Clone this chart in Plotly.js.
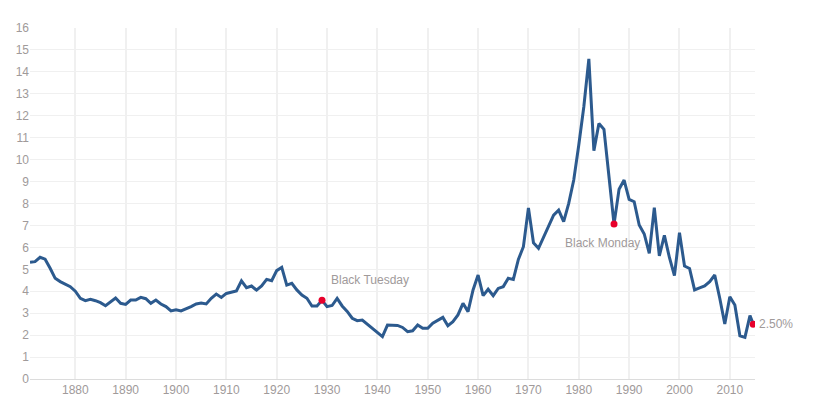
<!DOCTYPE html>
<html>
<head>
<meta charset="utf-8">
<script src="https://cdn.plot.ly/plotly-3.0.1.min.js"></script>
<style>html,body{margin:0;padding:0;background:#fff;}#chart{width:822px;height:411px;}</style>
</head>
<body>
<div id="chart"></div>
<script>
// Long-term interest rate (%), annual 1871-2014, plus latest reading
const years = [];
for (let y = 1871; y <= 2014; y++) years.push(y);
const latestYear = 2014.65;
const latestRate = 2.50;

const rates = [
  5.32, 5.35, 5.55, 5.46, 5.05, 4.59, 4.44, 4.32, 4.21,           // 1871-1879
  4.00, 3.68, 3.57, 3.63, 3.57, 3.48, 3.34, 3.52, 3.69, 3.45,     // 1880-1889
  3.40, 3.60, 3.60, 3.72, 3.66, 3.45, 3.60, 3.42, 3.30, 3.10,     // 1890-1899
  3.15, 3.10, 3.19, 3.30, 3.42, 3.46, 3.42, 3.68, 3.87, 3.72,     // 1900-1909
  3.90, 3.95, 4.01, 4.47, 4.16, 4.24, 4.05, 4.24, 4.54, 4.48,     // 1910-1919
  4.94, 5.09, 4.28, 4.36, 4.06, 3.83, 3.68, 3.33, 3.33, 3.59,     // 1920-1929
  3.30, 3.35, 3.67, 3.33, 3.08, 2.77, 2.66, 2.69, 2.51, 2.32,     // 1930-1939
  2.11, 1.93, 2.46, 2.46, 2.44, 2.35, 2.16, 2.20, 2.46, 2.31,     // 1940-1949
  2.31, 2.54, 2.69, 2.81, 2.43, 2.61, 2.92, 3.45, 3.07, 4.06,     // 1950-1959
  4.74, 3.80, 4.09, 3.80, 4.13, 4.21, 4.59, 4.54, 5.45, 6.03,     // 1960-1969
  7.80, 6.21, 5.96, 6.49, 7.02, 7.47, 7.70, 7.17, 8.01, 9.07,     // 1970-1979
  10.67, 12.41, 14.59, 10.41, 11.65, 11.38, 9.22, 7.06, 8.65, 9.07, // 1980-1989
  8.19, 8.08, 7.02, 6.61, 5.73, 7.81, 5.61, 6.55, 5.54, 4.71,     // 1990-1999
  6.67, 5.15, 5.04, 4.06, 4.15, 4.24, 4.44, 4.74, 3.68, 2.51,     // 2000-2009
  3.75, 3.37, 1.97, 1.90, 2.89                                     // 2010-2014
];

const eventNames = ["Black Tuesday", "Black Monday"];
const eventYears = [1929, 1987];

const xs = years.concat([latestYear]);
const ys = rates.concat([latestRate]);
const eventRates = eventYears.map(y => rates[years.indexOf(y)]);

const xTickVals = [1880, 1890, 1900, 1910, 1920, 1930, 1940, 1950, 1960, 1970, 1980, 1990, 2000, 2010];
const yTickVals = [0,1,2,3,4,5,6,7,8,9,10,11,12,13,14,15,16];

const lineColor = "#2c5a8e";
const dotColor = "#e8002b";
const textColor = "#a09a9a";
const font = "Liberation Sans, Arial, Helvetica, sans-serif";

const traces = [
  {x: xs, y: ys, type: "scatter", mode: "lines",
   line: {color: lineColor, width: 3}, hoverinfo: "skip"},
  {x: eventYears.concat([latestYear]), y: eventRates.concat([latestRate]),
   type: "scatter", mode: "markers",
   marker: {color: dotColor, size: 7}, hoverinfo: "skip"}
];

const annotations = [
  {x: eventYears[0], y: eventRates[0], text: eventNames[0], showarrow: false,
   xanchor: "left", yanchor: "middle", xshift: 7, yshift: 20,
   font: {family: font, size: 12, color: textColor}},
  {x: eventYears[1], y: eventRates[1], text: eventNames[1], showarrow: false,
   xanchor: "center", yanchor: "middle", xshift: -12, yshift: -19,
   font: {family: font, size: 12, color: textColor}},
  {x: latestYear, y: latestRate, text: latestRate.toFixed(2) + "%", showarrow: false,
   xanchor: "left", yanchor: "middle", xshift: 4, yshift: 0,
   font: {family: font, size: 12, color: textColor}}
];

const layout = {
  width: 822, height: 411,
  margin: {l: 30, r: 67, t: 28, b: 32},
  paper_bgcolor: "#fff", plot_bgcolor: "#fff",
  showlegend: false,
  font: {family: font, size: 12, color: textColor},
  xaxis: {
    range: [1871, 2015], tickvals: xTickVals, ticktext: xTickVals.map(String),
    showgrid: true, gridcolor: "#f0f0f0", gridwidth: 2,
    showline: true, linecolor: "#dcdcdc", linewidth: 1,
    zeroline: false, ticks: "", fixedrange: true,
    tickfont: {family: font, size: 12, color: textColor}
  },
  yaxis: {
    range: [0, 16], tickvals: yTickVals, ticktext: yTickVals.map(String),
    showgrid: true, gridcolor: "#f0f0f0", gridwidth: 1,
    zeroline: false, showline: false, ticks: "", fixedrange: true,
    tickfont: {family: font, size: 12, color: textColor}
  },
  annotations: annotations
};

Plotly.newPlot("chart", traces, layout, {displayModeBar: false, staticPlot: true});
</script>
</body>
</html>
